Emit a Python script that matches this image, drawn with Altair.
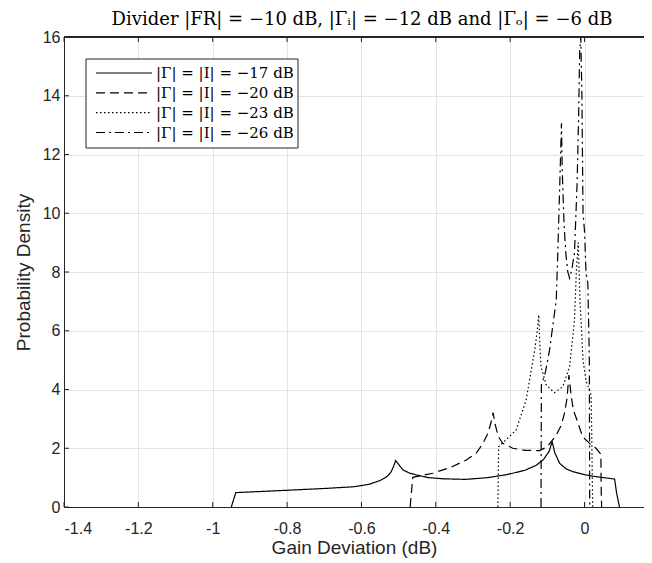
import altair as alt
import pandas as pd

# |Γ| = |I| = -17 dB (solid)
x_17 = [-0.950, -0.938, -0.85, -0.75, -0.70, -0.62, -0.58, -0.55, -0.53, -0.52,
        -0.513, -0.508, -0.500, -0.488, -0.47, -0.452, -0.42, -0.38, -0.32, -0.26,
        -0.21, -0.16, -0.13, -0.11, -0.095, -0.087, -0.080, -0.067, -0.05, -0.031,
        0.0, 0.022, 0.05, 0.081, 0.086, 0.094]
y_17 = [0.0, 0.49, 0.54, 0.60, 0.63, 0.69, 0.77, 0.90, 1.05, 1.20,
        1.40, 1.58, 1.45, 1.26, 1.15, 1.09, 1.00, 0.96, 0.94, 1.00,
        1.10, 1.25, 1.42, 1.62, 1.90, 2.22, 1.85, 1.49, 1.30, 1.20,
        1.10, 1.05, 1.00, 0.95, 0.50, 0.0]

# |Γ| = |I| = -20 dB (dashed)
x_20 = [-0.469, -0.462, -0.44, -0.408, -0.36, -0.318, -0.29, -0.273, -0.26, -0.252,
        -0.246, -0.24, -0.232, -0.22, -0.193, -0.16, -0.121, -0.1, -0.076, -0.062,
        -0.054, -0.047, -0.042, -0.036, -0.03, -0.022, -0.005, 0.015, 0.031, 0.044,
        0.045, 0.046]
y_20 = [0.0, 1.01, 1.07, 1.15, 1.35, 1.60, 1.85, 2.17, 2.50, 2.85,
        3.21, 2.80, 2.40, 2.17, 2.00, 1.93, 1.92, 2.05, 2.45, 2.80,
        3.19, 3.70, 4.49, 3.80, 3.30, 3.02, 2.39, 2.15, 2.00, 1.80,
        0.50, 0.0]

# |Γ| = |I| = -23 dB (dotted)
x_23 = [-0.233, -0.231, -0.21, -0.184, -0.157, -0.134, -0.128, -0.123, -0.120, -0.117,
        -0.103, -0.081, -0.058, -0.04, -0.027, -0.022, -0.017, -0.012, -0.004, 0.004,
        0.018, 0.022]
y_23 = [0.0, 2.05, 2.30, 2.62, 3.64, 5.34, 5.90, 6.54, 5.50, 4.78,
        4.15, 3.89, 4.10, 4.78, 6.37, 8.00, 9.00, 7.00, 5.00, 4.30,
        3.80, 0.0]

# |Γ| = |I| = -26 dB (dash-dot)
x_26 = [-0.117, -0.116, -0.105, -0.094, -0.085, -0.076, -0.072, -0.067, -0.062, -0.060,
        -0.055, -0.050, -0.045, -0.040, -0.034, -0.027, -0.020, -0.016, -0.013, -0.010,
        -0.007, -0.004, 0.0, 0.004, 0.009, 0.013, 0.014]
y_26 = [0.0, 4.15, 4.60, 5.34, 6.20, 7.04, 8.60, 10.8, 13.06, 11.5,
        9.60, 8.60, 8.00, 7.79, 8.10, 8.64, 11.0, 13.2, 15.5, 18.0,
        14.0, 10.0, 9.40, 8.00, 7.60, 5.00, 0.0]

labels = ["|Γ| = |I| = −17 dB", "|Γ| = |I| = −20 dB",
          "|Γ| = |I| = −23 dB", "|Γ| = |I| = −26 dB"]
dashes = [[1, 0], [9, 5], [1.5, 2.5], [9, 4, 2, 4]]

x_ticks = [-1.4, -1.2, -1.0, -0.8, -0.6, -0.4, -0.2, 0.0]
y_ticks = [0, 2, 4, 6, 8, 10, 12, 14, 16]

title_text = "Divider |FR| = −10 dB, |Γᵢ| = −12 dB and |Γₒ| = −6 dB"

W, H = 580, 470

frames = []
for lab, xs, ys in zip(labels, [x_17, x_20, x_23, x_26], [y_17, y_20, y_23, y_26]):
    frames.append(pd.DataFrame({"dev": xs, "pdf": ys, "series": lab}))
df = pd.concat(frames, ignore_index=True)

xscale = alt.Scale(domain=[-1.4, 0.16], nice=False, zero=False)
yscale = alt.Scale(domain=[0, 16], nice=False, clamp=True)
dash_scale = alt.Scale(domain=labels, range=dashes)

lines = (
    alt.Chart(df)
    .mark_line(color="black", strokeWidth=1.2, clip=True)
    .encode(
        x=alt.X("dev:Q", scale=xscale, title="Gain Deviation (dB)",
                axis=alt.Axis(values=x_ticks, labelExpr="toString(round(datum.value * 10) / 10)")),
        y=alt.Y("pdf:Q", scale=yscale, title="Probability Density",
                axis=alt.Axis(values=y_ticks)),
        strokeDash=alt.StrokeDash("series:N", scale=dash_scale, legend=None),
    )
)

# inward ticks and top border, matlab style
xt = pd.DataFrame({"t": x_ticks})
yt = pd.DataFrame({"t": y_ticks})
bottom_ticks = alt.Chart(xt).mark_rule(color="#262626").encode(
    x=alt.X("t:Q", scale=xscale), y=alt.value(H), y2=alt.value(H - 5))
top_ticks = alt.Chart(xt).mark_rule(color="#262626").encode(
    x=alt.X("t:Q", scale=xscale), y=alt.value(0), y2=alt.value(5))
left_ticks = alt.Chart(yt).mark_rule(color="#262626").encode(
    y=alt.Y("t:Q", scale=yscale, axis=None), x=alt.value(0), x2=alt.value(5))
top_line = alt.Chart(xt).mark_rule(color="#262626").encode(
    x=alt.value(0), x2=alt.value(W), y=alt.value(0))

title = alt.Chart(pd.DataFrame({"t": [title_text]})).mark_text(
    font="DejaVu Serif", fontSize=18, color="black", align="center",
    baseline="alphabetic").encode(x=alt.value(298), y=alt.value(-12), text="t:N")

# legend drawn inside the plot, top-left
leg = pd.DataFrame({"series": labels, "row": [0, 1, 2, 3]})
leg_box = alt.Chart(pd.DataFrame({"k": [0]})).mark_rect(
    fill="white", stroke="#262626", strokeWidth=1).encode(
    x=alt.value(22), x2=alt.value(234), y=alt.value(22), y2=alt.value(111))
leg_y = alt.Y("row:Q", scale=alt.Scale(domain=[0, 3], range=[36, 95.5]), axis=None)
leg_lines = alt.Chart(leg).mark_rule(color="black", strokeWidth=1.2).encode(
    x=alt.value(32), x2=alt.value(88), y=leg_y,
    strokeDash=alt.StrokeDash("series:N", scale=dash_scale, legend=None))
leg_text = alt.Chart(leg).mark_text(
    align="left", baseline="middle", font="DejaVu Serif", fontSize=15, color="black").encode(
    x=alt.value(92), y=leg_y, text="series:N")

legend_layer = alt.layer(leg_box, leg_lines, leg_text)

chart = (
    alt.layer(lines, bottom_ticks, top_ticks, left_ticks, top_line, title, legend_layer)
    .resolve_scale(y="independent")
    .properties(
        width=W, height=H,
        autosize=alt.AutoSizeParams(type="none"),
        padding={"left": 56, "top": 29, "right": 0, "bottom": 54},
    )
    .configure_view(stroke=None)
    .configure_axis(
        labelFont="Liberation Sans", labelFontSize=16, labelColor="#262626",
        titleFont="Liberation Sans", titleFontSize=19, titleColor="#262626",
        titleFontWeight="normal", domainColor="#262626", domainWidth=1,
        gridColor="#e3e3e3", gridWidth=1, tickSize=0, grid=True,
    )
    .configure_axisX(labelPadding=13, titlePadding=2)
    .configure_axisY(labelPadding=4, titlePadding=9)
)

chart.save("out.html", embed_options={"renderer": "svg", "actions": False})
